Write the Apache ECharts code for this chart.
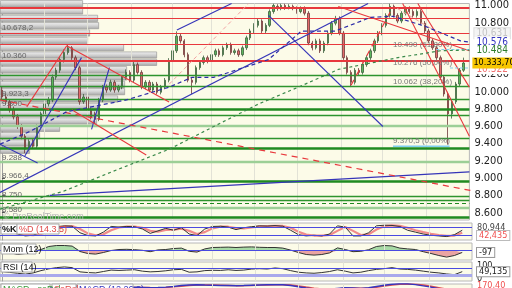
<!DOCTYPE html>
<html><head><meta charset="utf-8">
<script src="https://cdn.jsdelivr.net/npm/echarts@6/dist/echarts.min.js"></script>
<style>html,body{margin:0;padding:0;background:#fff}#c{width:512px;height:288px}</style>
</head><body><div id="c"></div>
<script>
// ---------- DATA ----------
// candles: [open, close, low, high]
const ohlc = [
[10020,9940,9905,10060],[9940,9885,9850,9975],[9885,9790,9760,9915],[9790,9710,9680,9830],[9710,9600,9570,9740],
[9600,9485,9450,9625],[9485,9335,9290,9510],[9335,9425,9310,9450],[9425,9370,9340,9460],[9370,9600,9350,9620],
[9600,9745,9580,9770],[9745,9860,9720,9890],[9860,9905,9830,9940],[9905,10170,9880,10200],[10170,10250,10140,10280],
[10250,10375,10220,10400],[10375,10455,10340,10490],[10455,10510,10430,10545],[10510,10395,10370,10530],[10395,10280,10250,10420],
[10280,9885,9850,10300],[9885,9940,9860,9975],[9940,9790,9770,9960],[9790,9710,9680,9815],[9745,9680,9630,9770],
[9680,9905,9660,9930],[9905,10055,9880,10080],[10055,10020,9990,10085],[10020,10110,10000,10140],[10110,10020,9990,10135],
[10020,10055,9995,10080],[10055,10170,10030,10195],[10170,10225,10140,10260],[10225,10135,10110,10250],[10135,10315,10110,10345],
[10315,10225,10200,10340],[10225,10055,10030,10250],[10055,10110,10030,10135],[10110,10020,9995,10135],[10020,10090,9995,10115],
[10090,9995,9970,10115],[9995,10055,9970,10080],[10055,10135,10030,10160],[10135,10360,10110,10390],[10360,10475,10340,10500],
[10475,10645,10450,10700],[10645,10590,10560,10680],[10590,10430,10400,10610],[10430,10135,10110,10455],[10135,10110,9975,10160],
[10110,10280,10085,10305],[10280,10340,10255,10365],[10340,10395,10315,10420],[10395,10360,10330,10420],[10360,10430,10335,10455],
[10430,10475,10405,10500],[10475,10430,10405,10500],[10430,10510,10410,10535],[10510,10545,10485,10570],[10545,10455,10430,10570],
[10455,10475,10430,10500],[10475,10430,10405,10500],[10430,10510,10410,10535],[10510,10625,10485,10650],[10625,10705,10600,10730],
[10705,10770,10680,10795],[10770,10820,10745,10845],[10820,10705,10680,10840],[10705,10770,10680,10795],[10770,10930,10750,10955],
[10930,11000,10905,11020],[10990,10965,10940,11015],[10965,11000,10945,11020],[11000,10975,10950,11020],[10975,10990,10955,11015],
[10990,10965,10945,11010],[10965,10930,10905,10990],[10930,10965,10910,10990],[10965,10910,10885,10990],[10910,10565,10540,10935],
[10565,10510,10480,10590],[10510,10590,10490,10615],[10590,10475,10450,10615],[10475,10565,10450,10590],[10565,10680,10540,10705],
[10680,10795,10655,10820],[10795,10850,10770,10880],[10850,10680,10655,10875],[10680,10395,10370,10705],[10395,10225,10200,10420],
[10225,10110,10055,10250],[10110,10250,10085,10275],[10250,10225,10195,10275],[10225,10315,10200,10340],[10315,10395,10290,10420],
[10395,10475,10370,10500],[10475,10590,10450,10615],[10590,10680,10565,10705],[10680,10770,10655,10795],[10770,10885,10745,10910],
[10885,10990,10860,11020],[10990,10885,10860,11010],[10885,10820,10795,10910],[10820,10910,10795,10935],[10910,10965,10885,10990],
[10965,10930,10905,10990],[10930,10885,10860,10955],[10885,10930,10860,10955],[10930,10795,10770,10955],[10795,10705,10680,10820],
[10705,10590,10565,10730],[10590,10510,10485,10615],[10510,10395,10370,10535],[10395,10170,10140,10420],[10170,9975,9945,10195],
[9975,9745,9390,10000],[9745,9885,9690,9910],[9885,10090,9860,10115],[10090,10250,10065,10275],[10250,10333.7,10230,10396]
];
const priceTicks = [8600,8800,9000,9200,9400,9600,9800,10000,10200,10800,11000];
const profileVolume = [83,83,98,99,90,88,124,157,157,127,127,125,125,118,100,98,97,60,40,35,30];

const redLevelsThick = [10977,10360];
const redLevels = [10852,10681,10555];
const greenLevelsThick = [9803,9350,8960,8550];
const greenLevels = [10190,10065,9915,9723,9461,8788,8743];
const lightGreenLevels = [9609,9187,8652];
const greenDashedLevels = [8709];

const leftLabelsAbove = [10678.2,10360,9923.3,9800,8966.4,8750,8580];
const leftLabelsBelow = [9288];
const fibLevels = [10490,10276,10062,9370.5];
const fibPct = [61.8,50,38.2,0];

const blueLines = [
 [[-0.5,8834],[94.4,11023]],
 [[45.1,10715],[59.2,11023]],
 [[68.7,10886],[98.2,9598]],
 [[-0.5,9393],[9.2,9176]],
 [[5.9,9256],[20.5,10396]],
 [[23.1,9564],[27.7,10282]],
 [[12.3,8800],[120.5,9073]]
];
const redLines = [
 [[6.4,9826],[16.7,10533]],
 [[16.7,10533],[43.1,9883]],
 [[18,9792],[37.2,9267]],
 [[86.7,10989],[120.5,10476]],
 [[103.3,11023],[120.5,9484]],
 [[107.2,11023],[120.5,10054]]
];
const redDashedLines = [
 [[-0.5,9906],[120.8,8857]],
 [[90,10077],[100.3,10943]]
];
const pinkDashedLines = [
 [[43.1,10088],[63.6,11023]],
 [[101.9,10966],[113.1,10669]]
];
const fibDashSegments = [
 [[112,10490],[120.5,10490]],
 [[115.5,10276],[120.5,10276]]
];
const fibZeroSegment = [[100.8,9370.5],[115.4,9370.5]];

const greenMA = [[-0.5,8640],[15.7,8845],[30.3,9108],[43.1,9335],[54.6,9598],[66.2,9860],[76.4,10054],[86.7,10259],[102.1,10396],[113.1,10476],[120.5,10484]];
const blueMA = [[-0.5,9393],[7.2,9541],[16.7,9769],[32.1,9906],[43.1,10054],[49,10168],[54.6,10168],[58.5,10225],[68.7,10373],[77.2,10704],[85.9,10704],[95.1,10863],[100.8,10875],[109,10761],[118.2,10590],[120.5,10576]];

const monthIdx = [11,22,33.3,44,54,65,76,87.5,98,109.5];

// indicators, one value every 2 candles
const stochK = [50,45,30,15,20,45,70,88,95,92,40,18,15,45,90,85,90,88,70,35,55,75,60,80,30,18,70,90,92,85,65,80,88,95,93,97,92,60,25,15,20,15,30,95,85,15,15,40,95,100,98,90,60,45,30,20,15,10,25,60];
const stochD = [52,48,38,25,20,30,52,75,88,93,70,35,20,28,60,82,88,89,80,55,48,62,65,72,55,30,45,75,88,88,78,75,82,90,93,95,94,80,48,25,18,17,22,55,85,55,22,28,65,92,98,95,80,60,45,32,22,15,18,40];
const mom = [-50,-100,-200,-150,-50,50,200,250,250,220,-50,-150,-180,-100,0,50,60,40,10,-60,30,50,100,120,-40,-80,80,150,160,170,150,170,180,160,150,150,120,20,-100,-200,-230,-200,-120,130,50,-60,-40,40,200,250,230,120,80,50,-60,-150,-250,-330,-250,-97];
const rsi = [50,45,40,35,42,55,65,72,76,72,48,44,42,50,58,56,58,60,52,48,50,54,60,62,46,48,55,57,56,60,56,58,64,66,64,70,66,55,46,42,40,44,50,60,52,42,46,55,62,66,72,64,62,58,52,46,42,36,32,49.135];
const macd = [-20,-40,-60,-70,-60,-40,-10,20,50,60,40,10,-10,-20,-10,0,10,15,10,0,5,20,40,70,90,95,85,80,75,70,65,70,80,90,95,100,95,70,30,-10,-40,-60,-50,-20,0,-10,-20,0,40,80,110,130,125,100,60,20,-30,-80,-110,-100];
const macdSignal = [-10,-25,-40,-55,-60,-52,-35,-10,15,35,45,30,10,-5,-12,-6,3,10,12,6,4,12,28,50,72,88,90,85,80,74,68,68,74,84,91,97,97,85,58,22,-12,-40,-52,-38,-15,-8,-14,-8,18,55,88,112,122,112,85,45,0,-45,-85,-100];
const kLast = 80.944, dLast = 42.435, momLast = -97, rsiLast = 49.135, macdLast = 170.40;
const rsiBounds = [100, 0];
const lastClose = 10333.70, blueMALast = 10576, greenMALast = 10484, redRef = 10322, greyRef = 10631;

// ---------- CHART ----------
const FONT = 'Liberation Sans';
const NFONT = "'Liberation Sans Narrow','DejaVu Sans Condensed','Liberation Sans'";
const CREAM = '#fcfbe8';
const N = 121;
const slots = Array.from({length:N},(_,i)=>String(i));
const step2 = arr => arr.map((v,i)=>[i*2, v]);
const NOLINE = {color:'rgba(0,0,0,0)', width:0};

function fmtEU(v, dec){
  const s = v.toFixed(dec);
  let [a,b] = s.split('.');
  a = a.replace(/\B(?=(\d{3})+(?!\d))/g,'.');
  return b ? a+','+b : a;
}
function fmtLevel(v){ return Number.isInteger(v) ? fmtEU(v,0) : fmtEU(v,1); }

const RED='#e8383d', GREEN='#1f8a1f', LGREEN='#9ccf96', BLUE='#3535b8';

function lvl(v,color,width,type){ return {yAxis:v, lineStyle:{color:color,width:width,type:type||'solid'}}; }
const levelData = [].concat(
  redLevelsThick.map(v=>lvl(v,RED,2.2)),
  redLevels.map(v=>lvl(v,RED,1.2)),
  greenLevelsThick.map(v=>lvl(v,GREEN,2.6)),
  greenLevels.map(v=>lvl(v,'#2e942e',1.3)),
  lightGreenLevels.map(v=>lvl(v,LGREEN,2.4)),
  greenDashedLevels.map(v=>lvl(v,GREEN,1,[4,3]))
);
const leftLabelData = [].concat(
  leftLabelsAbove.map(v=>({yAxis:v, lineStyle:NOLINE, label:{show:true, position:'insideStartTop', distance:[2,1], formatter:fmtLevel(v), color:'#666', fontSize:8, fontFamily:FONT}})),
  leftLabelsBelow.map(v=>({yAxis:v, lineStyle:NOLINE, label:{show:true, position:'insideStartBottom', distance:[2,1], formatter:fmtLevel(v), color:'#666', fontSize:8, fontFamily:FONT}}))
);
const fibLabelData = fibLevels.map((v,i)=>[
  {coord:[100.8,v], lineStyle:NOLINE, label:{show:true, position:'insideStartTop', distance:[0,1], formatter: fmtLevel(v)+' ('+fmtEU(fibPct[i],2)+'%)', color:'#777', fontSize:8, fontFamily:FONT}},
  {coord:[120.5,v]}
]);

function rightLabel(v, text, opt){
  return {yAxis:v, lineStyle:NOLINE, label:Object.assign({show:true, position:'end', distance:5, formatter:text, fontSize:10, fontFamily:NFONT, color:'#222'}, opt||{})};
}
const mainRightLabels = [
  rightLabel(greyRef, fmtEU(greyRef,0), {color:'#c4c4c4', backgroundColor:'#f4f4f4', borderColor:'#ddd', borderWidth:1, padding:[0,2], offset:[0,-4]}),
  rightLabel(blueMALast, fmtEU(blueMALast,0), {color:'#3535c0', backgroundColor:'#fff', padding:[0,2]}),
  rightLabel(greenMALast, fmtEU(greenMALast,0), {color:'#2e7d2e', backgroundColor:'#fff', padding:[0,2]}),
  rightLabel(redRef, fmtEU(redRef,0), {color:'#f07070', backgroundColor:'#fff', padding:[0,2], offset:[0,5]}),
  rightLabel(lastClose, fmtEU(lastClose,2), {color:'#000', backgroundColor:'#f7c600', padding:[1,1], distance:3, fontSize:9})
];

function lineSeries(pts, color, width, type, opacity){
  return {type:'line', xAxisIndex:1, yAxisIndex:0, data:pts, symbol:'none', silent:true, z:5,
    lineStyle:{color:color, width:width, type:type||'solid', opacity:opacity==null?1:opacity}, animation:false};
}
const trendSeries = [].concat(
  blueLines.map(p=>lineSeries(p,BLUE,1.1)),
  redLines.map(p=>lineSeries(p,RED,1.1)),
  redDashedLines.map(p=>lineSeries(p,RED,1.2,[6,5])),
  pinkDashedLines.map(p=>lineSeries(p,'#f2a0a0',1,[4,3])),
  fibDashSegments.map(p=>lineSeries(p,'#7fd0f0',1,[3,2])),
  [lineSeries(fibZeroSegment,'#7fd0f0',1.5)],
  [lineSeries(greenMA,'#3b8a4b',1.2,[3,3])],
  [lineSeries(blueMA,'#2c2ca8',1.2,[4,3])]
);

function vlines(xIdx, yIdx){
  return {type:'line', xAxisIndex:xIdx, yAxisIndex:yIdx, data:[], z:1, silent:true,
    markLine:{symbol:'none', silent:true, animation:false, label:{show:false},
      lineStyle:{color:'#e2e2d6', width:1, type:'solid'}, data: monthIdx.map(v=>({xAxis:v}))}};
}
function hguide(xIdx,yIdx,vals,color,width){
  return {type:'line', xAxisIndex:xIdx, yAxisIndex:yIdx, data:[], z:2, silent:true,
    markLine:{symbol:'none', silent:true, animation:false, label:{show:false},
      data: vals.map(v=>({yAxis:v, lineStyle:{color:color, width:width, type:'solid'}}))}};
}

const gridBase = {left:0, width:472, show:true, backgroundColor:CREAM, borderColor:'#b8b8b8', borderWidth:1};
const hiddenX = (g)=>({type:'value', gridIndex:g, min:-0.5, max:120.5, show:false});
const sideY = (g,min,max,extra)=>Object.assign({type:'value', gridIndex:g, min:min, max:max, position:'right',
  splitLine:{show:false}, axisLine:{show:true, lineStyle:{color:'#a0a0a0'}}, axisTick:{show:false}, axisLabel:{show:false}}, extra||{});

const option = {
  animation:false,
  backgroundColor:'#ffffff',
  grid:[
    Object.assign({top:0, height:220}, gridBase),
    {left:0, top:0, width:472, height:220, show:false},
    Object.assign({top:223, height:17}, gridBase),
    Object.assign({top:243, height:17}, gridBase),
    Object.assign({top:262, height:19}, gridBase),
    Object.assign({top:284, height:40}, gridBase)
  ],
  xAxis:[
    {type:'category', gridIndex:0, data:slots, boundaryGap:true, show:false},
    hiddenX(0),
    {type:'value', gridIndex:1, min:0, max:472, show:false},
    hiddenX(2), hiddenX(3), hiddenX(4), hiddenX(5)
  ],
  yAxis:[
    sideY(0, 8515, 11023, {
      axisTick:{show:true, length:3, inside:false, customValues:priceTicks, lineStyle:{color:'#555'}},
      axisLabel:{show:true, customValues:priceTicks, formatter:v=>fmtEU(v,0), color:'#222', fontSize:11, fontFamily:NFONT, margin:5}
    }),
    {type:'category', gridIndex:1, inverse:true, show:false, data:Array.from({length:30},(_,i)=>String(i))},
    sideY(2, -17.5, 117.5),
    sideY(3, -475, 375),
    sideY(4, -4, 104),
    sideY(5, -200, 120)
  ],
  series:[
    vlines(1,0),
    {type:'bar', xAxisIndex:2, yAxisIndex:1, data:profileVolume, barCategoryGap:'6%', silent:true, z:2,
      itemStyle:{borderColor:'#9a9a9a', borderWidth:0.7,
        color:new echarts.graphic.LinearGradient(0,0,0,1,[{offset:0,color:'#f2f2f2'},{offset:0.5,color:'#d2d2d2'},{offset:1,color:'#a6a6a6'}])}},
    {type:'candlestick', xAxisIndex:0, yAxisIndex:0, data:ohlc, barMaxWidth:3, z:3, silent:true,
      itemStyle:{color:'#5cb85c', color0:'#e46c6c', borderColor:'#3d5f3d', borderColor0:'#6f3a3a', borderWidth:0.8}},
    {type:'line', xAxisIndex:1, yAxisIndex:0, data:[], z:4, silent:true,
      markLine:{symbol:'none', silent:true, animation:false, label:{show:false}, data:levelData}},
    {type:'line', xAxisIndex:1, yAxisIndex:0, data:[], z:7, silent:true,
      markLine:{symbol:'none', silent:true, animation:false, data:leftLabelData.concat(fibLabelData)}},
    {type:'line', xAxisIndex:1, yAxisIndex:0, data:[], z:8, silent:true,
      markLine:{symbol:'none', silent:true, animation:false, data:mainRightLabels}},
    ...trendSeries,

    // %K / %D
    vlines(3,2),
    hguide(3,2,[80,20],'#4a4ae0',1),
    {type:'line', xAxisIndex:3, yAxisIndex:2, data:step2(stochD), symbol:'none', z:3, silent:true, lineStyle:{color:'#f08a8a', width:2.2}},
    {type:'line', xAxisIndex:3, yAxisIndex:2, data:step2(stochK), symbol:'none', z:4, silent:true, lineStyle:{color:'#333', width:1},
      markLine:{symbol:'none', silent:true, animation:false, data:[
        rightLabel(kLast, fmtEU(kLast,3), {color:'#444', fontSize:9}),
        rightLabel(dLast, fmtEU(dLast,3), {color:'#f05050', fontSize:9, backgroundColor:'#fff', borderColor:'#bbb', borderWidth:1, padding:[0,2], offset:[0,3]})
      ]}},
    // Mom
    vlines(4,3),
    hguide(4,3,[0],'#4a4ae0',1.2),
    {type:'line', xAxisIndex:4, yAxisIndex:3, data:step2(mom.map(v=>Math.max(v,0))), symbol:'none', z:3, silent:true, lineStyle:{opacity:0}, areaStyle:{color:'#9fd69f', opacity:0.9, origin:0}},
    {type:'line', xAxisIndex:4, yAxisIndex:3, data:step2(mom.map(v=>Math.min(v,0))), symbol:'none', z:3, silent:true, lineStyle:{opacity:0}, areaStyle:{color:'#e89a9a', opacity:0.9, origin:0}},
    {type:'line', xAxisIndex:4, yAxisIndex:3, data:step2(mom), symbol:'none', z:4, silent:true, lineStyle:{color:'#333', width:1},
      markLine:{symbol:'none', silent:true, animation:false, data:[
        rightLabel(momLast, fmtEU(momLast,0), {color:'#222', fontSize:9, backgroundColor:'#fff', borderColor:'#999', borderWidth:1, padding:[0,2]})
      ]}},
    // RSI
    vlines(5,4),
    hguide(5,4,[70],'#4a4ae0',1),
    hguide(5,4,[30],'#a9a9ec',3),
    {type:'line', xAxisIndex:5, yAxisIndex:4, data:step2(rsi), symbol:'none', z:4, silent:true, lineStyle:{color:'#333', width:1},
      markLine:{symbol:'none', silent:true, animation:false, data:[
        rightLabel(rsiBounds[0], fmtEU(rsiBounds[0],0), {color:'#222', fontSize:9, offset:[0,3]}),
        rightLabel(rsiBounds[1], fmtEU(rsiBounds[1],0), {color:'#222', fontSize:9, offset:[0,-2]}),
        rightLabel(rsiLast, fmtEU(rsiLast,3), {color:'#222', fontSize:9, backgroundColor:'#fff', borderColor:'#999', borderWidth:1, padding:[0,2]})
      ]}},
    // MACD
    vlines(6,5),
    {type:'line', xAxisIndex:6, yAxisIndex:5, data:step2(macdSignal), symbol:'none', z:3, silent:true, lineStyle:{color:'#e05050', width:1.5}},
    {type:'line', xAxisIndex:6, yAxisIndex:5, data:step2(macd), symbol:'none', z:4, silent:true, lineStyle:{color:'#3535c0', width:1.5},
      markLine:{symbol:'none', silent:true, animation:false, data:[
        rightLabel(80, fmtEU(macdLast,2), {color:'#f05050', fontSize:9})
      ]}}
  ],
  graphic:[
    {type:'text', x:3, y:212, z:100, style:{text:'© ProRealTime.com', fill:'#b5b5b5', font:'9px "Liberation Sans"'}},
    {type:'rect', z:100, shape:{x:1,y:224,width:16,height:10}, style:{fill:'#fff', stroke:'#aaa', lineWidth:1}},
    {type:'text', z:101, x:2, y:225, style:{text:'%K', fill:'#111', font:'bold 9px "Liberation Sans"'}},
    {type:'rect', z:100, shape:{x:17,y:224,width:42,height:10}, style:{fill:'#fff', stroke:'#aaa', lineWidth:1}},
    {type:'text', z:101, x:19, y:225, style:{text:'%D (14.3.5)', fill:'#e04848', font:'9px "Liberation Sans"'}},
    {type:'rect', z:100, shape:{x:1,y:244,width:35,height:10}, style:{fill:'#fff', stroke:'#aaa', lineWidth:1}},
    {type:'text', z:101, x:3, y:245, style:{text:'Mom (12)', fill:'#111', font:'9px "Liberation Sans"'}},
    {type:'rect', z:100, shape:{x:1,y:262,width:31,height:10}, style:{fill:'#fff', stroke:'#aaa', lineWidth:1}},
    {type:'text', z:101, x:3, y:263, style:{text:'RSI (14)', fill:'#111', font:'9px "Liberation Sans"'}},
    {type:'rect', z:100, shape:{x:1,y:284,width:49,height:10}, style:{fill:'#fff', stroke:'#aaa', lineWidth:1}},
    {type:'text', z:101, x:3, y:285, style:{text:'MACD - seRol', fill:'#3a9a3a', font:'9px "Liberation Sans"'}},
    {type:'rect', z:100, shape:{x:52,y:284,width:24,height:10}, style:{fill:'#fff', stroke:'#aaa', lineWidth:1}},
    {type:'text', z:101, x:54, y:285, style:{text:'SeRol', fill:'#e04848', font:'9px "Liberation Sans"'}},
    {type:'rect', z:100, shape:{x:77,y:284,width:56,height:10}, style:{fill:'#fff', stroke:'#aaa', lineWidth:1}},
    {type:'text', z:101, x:79, y:285, style:{text:'MACD (12.26.9)', fill:'#3535c0', font:'9px "Liberation Sans"'}}
  ]
};
const chart = echarts.init(document.getElementById('c'));
chart.setOption(option);
</script>
</body></html>
